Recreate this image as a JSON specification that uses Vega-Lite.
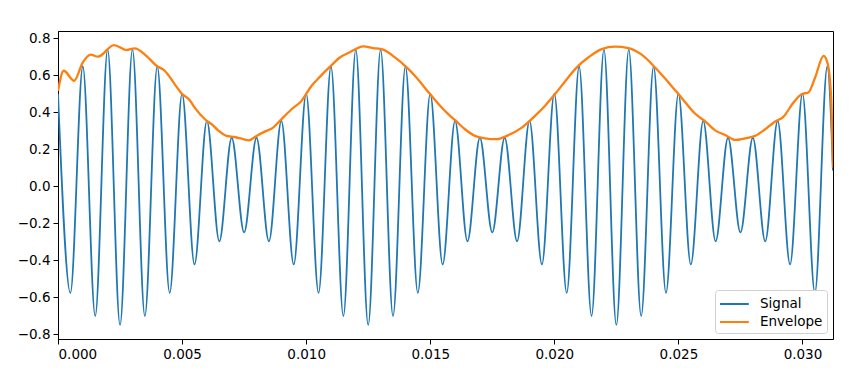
{
  "$schema": "https://vega.github.io/schema/vega-lite/v6.json",
  "autosize": "none",
  "width": 775,
  "height": 308,
  "padding": {"left": 58, "top": 31, "right": 34, "bottom": 44},
  "background": "white",
  "datasets": {
    "signal": [
      {"t": 0.0000, "v": 0.50}, {"t": 0.0005, "v": -0.577}, {"t": 0.0010, "v": 0.647}, {"t": 0.0015, "v": -0.702},
      {"t": 0.0020, "v": 0.738}, {"t": 0.0025, "v": -0.75}, {"t": 0.0030, "v": 0.738}, {"t": 0.0035, "v": -0.702},
      {"t": 0.0040, "v": 0.647}, {"t": 0.0045, "v": -0.577}, {"t": 0.0050, "v": 0.50}, {"t": 0.0055, "v": -0.423},
      {"t": 0.0060, "v": 0.353}, {"t": 0.0065, "v": -0.298}, {"t": 0.0070, "v": 0.262}, {"t": 0.0075, "v": -0.25},
      {"t": 0.0080, "v": 0.262}, {"t": 0.0085, "v": -0.298}, {"t": 0.0090, "v": 0.353}, {"t": 0.0095, "v": -0.423},
      {"t": 0.0100, "v": 0.50}, {"t": 0.0105, "v": -0.577}, {"t": 0.0110, "v": 0.647}, {"t": 0.0115, "v": -0.702},
      {"t": 0.0120, "v": 0.738}, {"t": 0.0125, "v": -0.75}, {"t": 0.0130, "v": 0.738}, {"t": 0.0135, "v": -0.702},
      {"t": 0.0140, "v": 0.647}, {"t": 0.0145, "v": -0.577}, {"t": 0.0150, "v": 0.50}, {"t": 0.0155, "v": -0.423},
      {"t": 0.0160, "v": 0.353}, {"t": 0.0165, "v": -0.298}, {"t": 0.0170, "v": 0.262}, {"t": 0.0175, "v": -0.25},
      {"t": 0.0180, "v": 0.262}, {"t": 0.0185, "v": -0.298}, {"t": 0.0190, "v": 0.353}, {"t": 0.0195, "v": -0.423},
      {"t": 0.0200, "v": 0.50}, {"t": 0.0205, "v": -0.577}, {"t": 0.0210, "v": 0.647}, {"t": 0.0215, "v": -0.702},
      {"t": 0.0220, "v": 0.738}, {"t": 0.0225, "v": -0.75}, {"t": 0.0230, "v": 0.738}, {"t": 0.0235, "v": -0.702},
      {"t": 0.0240, "v": 0.647}, {"t": 0.0245, "v": -0.577}, {"t": 0.0250, "v": 0.50}, {"t": 0.0255, "v": -0.423},
      {"t": 0.0260, "v": 0.353}, {"t": 0.0265, "v": -0.298}, {"t": 0.0270, "v": 0.262}, {"t": 0.0275, "v": -0.25},
      {"t": 0.0280, "v": 0.262}, {"t": 0.0285, "v": -0.298}, {"t": 0.0290, "v": 0.353}, {"t": 0.0295, "v": -0.423},
      {"t": 0.0300, "v": 0.50}, {"t": 0.0305, "v": -0.577}, {"t": 0.0310, "v": 0.647}, {"t": 0.03123, "v": 0.085}
    ],
    "envelope": [
      {"t": 0.0, "v": 0.515}, {"t": 0.00023, "v": 0.624}, {"t": 0.00065, "v": 0.570}, {"t": 0.0010, "v": 0.669},
      {"t": 0.00132, "v": 0.711}, {"t": 0.00161, "v": 0.700}, {"t": 0.00226, "v": 0.763}, {"t": 0.00276, "v": 0.736},
      {"t": 0.00309, "v": 0.745}, {"t": 0.00356, "v": 0.705}, {"t": 0.00397, "v": 0.651}, {"t": 0.0043, "v": 0.624},
      {"t": 0.0047, "v": 0.552}, {"t": 0.00498, "v": 0.501}, {"t": 0.00531, "v": 0.465}, {"t": 0.00551, "v": 0.425},
      {"t": 0.00592, "v": 0.362}, {"t": 0.00619, "v": 0.335}, {"t": 0.00645, "v": 0.302}, {"t": 0.00679, "v": 0.272},
      {"t": 0.00712, "v": 0.266}, {"t": 0.0074, "v": 0.257}, {"t": 0.00769, "v": 0.248}, {"t": 0.0080, "v": 0.272},
      {"t": 0.00833, "v": 0.295}, {"t": 0.00867, "v": 0.317}, {"t": 0.0090, "v": 0.362}, {"t": 0.00941, "v": 0.416},
      {"t": 0.00981, "v": 0.461}, {"t": 0.01022, "v": 0.543}, {"t": 0.01055, "v": 0.591}, {"t": 0.01096, "v": 0.646},
      {"t": 0.01136, "v": 0.696}, {"t": 0.01176, "v": 0.724}, {"t": 0.0123, "v": 0.756}, {"t": 0.0127, "v": 0.747},
      {"t": 0.0131, "v": 0.738}, {"t": 0.01358, "v": 0.696}, {"t": 0.01405, "v": 0.642}, {"t": 0.01438, "v": 0.597},
      {"t": 0.01499, "v": 0.498}, {"t": 0.01546, "v": 0.425}, {"t": 0.0158, "v": 0.380}, {"t": 0.0160, "v": 0.357},
      {"t": 0.0164, "v": 0.308}, {"t": 0.0168, "v": 0.272}, {"t": 0.0172, "v": 0.259}, {"t": 0.01768, "v": 0.254},
      {"t": 0.01808, "v": 0.272}, {"t": 0.01869, "v": 0.317}, {"t": 0.01922, "v": 0.380}, {"t": 0.01962, "v": 0.434},
      {"t": 0.02003, "v": 0.498}, {"t": 0.02056, "v": 0.588}, {"t": 0.02084, "v": 0.633}, {"t": 0.02104, "v": 0.660},
      {"t": 0.02137, "v": 0.696}, {"t": 0.02191, "v": 0.741}, {"t": 0.02245, "v": 0.754}, {"t": 0.02298, "v": 0.747},
      {"t": 0.02352, "v": 0.711}, {"t": 0.02406, "v": 0.642}, {"t": 0.0246, "v": 0.561}, {"t": 0.02514, "v": 0.476},
      {"t": 0.02567, "v": 0.393}, {"t": 0.02608, "v": 0.350}, {"t": 0.02648, "v": 0.302}, {"t": 0.02688, "v": 0.277},
      {"t": 0.02729, "v": 0.250}, {"t": 0.02769, "v": 0.259}, {"t": 0.02809, "v": 0.272}, {"t": 0.0285, "v": 0.308},
      {"t": 0.0289, "v": 0.350}, {"t": 0.02923, "v": 0.375}, {"t": 0.02964, "v": 0.453}, {"t": 0.02998, "v": 0.498},
      {"t": 0.03024, "v": 0.507}, {"t": 0.03051, "v": 0.588}, {"t": 0.03085, "v": 0.705}, {"t": 0.03102, "v": 0.660},
      {"t": 0.03116, "v": 0.461}, {"t": 0.03121, "v": 0.21}, {"t": 0.03123, "v": 0.10}
    ]
  },
  "encoding": {
    "x": {
      "field": "t", "type": "quantitative",
      "scale": {"domain": [0, 0.03123], "nice": false, "zero": false},
      "axis": {"title": null, "values": [0, 0.005, 0.01, 0.015, 0.02, 0.025, 0.03], "format": ".3f", "grid": false}
    },
    "y": {
      "field": "v", "type": "quantitative",
      "scale": {"domain": [-0.826, 0.839], "nice": false, "zero": false},
      "axis": {"title": null, "values": [-0.8, -0.6, -0.4, -0.2, 0, 0.2, 0.4, 0.6, 0.8], "format": ".1f", "grid": false}
    }
  },
  "layer": [
    {
      "data": {"name": "signal"},
      "mark": {"type": "line", "interpolate": "monotone", "strokeWidth": 1.8, "clip": true},
      "encoding": {
        "color": {"datum": "Signal", "type": "nominal",
          "scale": {"domain": ["Signal", "Envelope"], "range": ["#1f77b4", "#ff7f0e"]},
          "legend": {"title": null}}
      }
    },
    {
      "data": {"name": "envelope"},
      "mark": {"type": "line", "interpolate": "monotone", "strokeWidth": 2.3, "clip": true},
      "encoding": {
        "color": {"datum": "Envelope", "type": "nominal"}
      }
    }
  ],
  "config": {
    "font": "DejaVu Sans",
    "view": {"stroke": "black", "strokeWidth": 1},
    "axis": {
      "domainColor": "black", "domainWidth": 1, "tickColor": "black", "tickWidth": 1, "tickSize": 5,
      "labelColor": "black", "labelFontSize": 13.5, "labelPadding": 3, "labelFont": "DejaVu Sans"
    },
    "legend": {
      "orient": "bottom-right", "offset": 6, "padding": 4, "strokeColor": "#d0d0d0", "fillColor": "white",
      "cornerRadius": 3, "symbolType": "M-1,0H2.2", "symbolSize": 324, "symbolStrokeWidth": 2,
      "labelFontSize": 13.5, "labelColor": "black", "labelFont": "DejaVu Sans", "labelOffset": 21, "rowPadding": 1
    }
  }
}
